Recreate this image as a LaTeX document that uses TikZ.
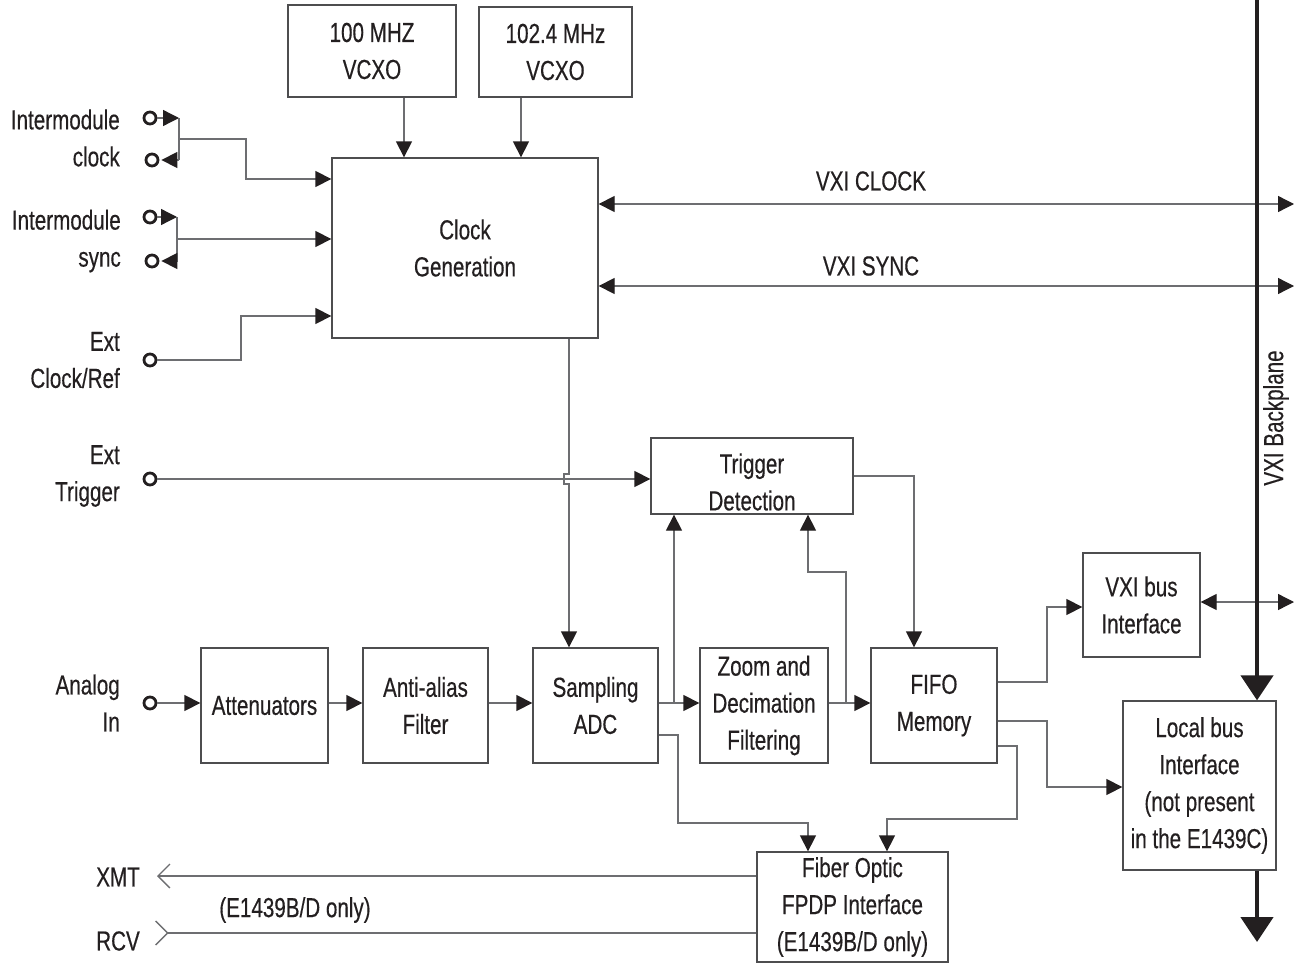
\documentclass[tikz,border=0pt]{standalone}
\usepackage{fontspec}
\setmainfont{Liberation Sans}[FakeStretch=0.75,FakeBold=0.4]
\usetikzlibrary{arrows.meta}
\definecolor{ink}{HTML}{231F20}
\definecolor{wire}{HTML}{6D6E71}
\definecolor{edgec}{HTML}{4D4D4F}
\newcommand{\diafont}{\fontsize{27.5}{37}\selectfont}
\tikzset{
  blk/.style={draw=edgec, line width=1.3pt, fill=white, align=center, text=ink, font=\diafont, inner sep=0pt},
  lab/.style={text=ink, font=\diafont, inner sep=0pt},
  wireln/.style={draw=wire, line width=1.3pt},
  arr/.style={wireln, -{Triangle[length=16pt,width=16pt,color=ink]}},
  biarr/.style={wireln, {Triangle[length=16pt,width=16pt,color=ink]}-{Triangle[length=16pt,width=16pt,color=ink]}},
  term/.style={circle, draw=ink, line width=2.8pt, inner sep=0pt, minimum size=12pt},
  bpl/.style={draw=ink, line width=4.5pt, -{Triangle[length=25pt,width=32pt,color=ink]}},
  barb/.style={wireln, {Straight Barb[length=12pt,width=24pt,color=wire]}-},
  rbarb/.style={wireln, {Straight Barb[reversed,length=12pt,width=24pt,color=wire]}-}
}
\begin{document}
\begin{tikzpicture}[x=1pt,y=-1pt]
\useasboundingbox (0,0) rectangle (1294,966);

% boxes
\node[blk, minimum width=168pt, minimum height=92pt] (v100) at (372,51) {100 MHZ\\VCXO};
\node[blk, minimum width=153pt, minimum height=90pt] (v102) at (555.5,52) {102.4 MHz\\VCXO};
\node[blk, minimum width=266pt, minimum height=180pt] (clk) at (465,248) {Clock\\Generation};
\node[blk, minimum width=202pt, minimum height=76pt] (trig) at (752,476) {};
\node[lab, align=center] (trigtxt) at (752,482) {Trigger\\Detection};
\node[blk, minimum width=117pt, minimum height=104pt] (vxib) at (1141.5,605) {VXI bus\\Interface};
\node[blk, minimum width=127pt, minimum height=115pt] (att) at (264.5,705.5) {Attenuators};
\node[blk, minimum width=125pt, minimum height=115pt] (aaf) at (425.5,705.5) {Anti-alias\\Filter};
\node[blk, minimum width=125pt, minimum height=115pt] (adc) at (595.5,705.5) {Sampling\\ADC};
\node[blk, minimum width=128pt, minimum height=115pt] (zoom) at (764,705.5) {Zoom and\\Decimation\\Filtering};
\node[blk, minimum width=126pt, minimum height=115pt] (fifo) at (934,705.5) {FIFO\\Memory};
\node[blk, minimum width=153pt, minimum height=169pt] (lbus) at (1199.5,785.5) {Local bus\\Interface\\(not present\\in the E1439C)};
\node[blk, minimum width=191pt, minimum height=110pt] (fiber) at (852.5,907) {Fiber Optic\\FPDP Interface\\(E1439B/D only)};

% terminals
\node[term] (timc1) at (150,118) {};
\node[term] (timc2) at (152,160) {};
\node[term] (tims1) at (150,217) {};
\node[term] (tims2) at (152,261) {};
\node[term] (tecr) at (150,360) {};
\node[term] (tet) at (150,479) {};
\node[term] (tai) at (150,703) {};

% left labels
\node[lab, anchor=east, align=right] (limc) at (120,138) {Intermodule\\clock};
\node[lab, anchor=east, align=right] (lims) at (121,241) {Intermodule\\sync};
\node[lab, anchor=east, align=right] (lecr) at (120,360) {Ext\\Clock/Ref};
\node[lab, anchor=east, align=right] (let) at (120,476) {Ext\\Trigger};
\node[lab, anchor=east, align=right] (lai) at (120,703) {Analog\\In};
\node[lab, anchor=east] (lxmt) at (140,877) {XMT};
\node[lab, anchor=east] (lrcv) at (140,941) {RCV};
\node[lab] (lonly) at (295,910) {(E1439B/D only)};
\node[lab] (lclk) at (871,181) {VXI CLOCK};
\node[lab] (lsync) at (871,266) {VXI SYNC};
\node[lab, rotate=90] (lbp) at (1276,418) {VXI Backplane};

% coordinates
\coordinate (jc) at (179,139);
\coordinate (js) at (177,239);
\coordinate (bptop) at (1257,0);
\coordinate (bpend) at (1257,942);
\coordinate (rclk) at (1294,204);
\coordinate (rsync) at (1294,286);
\coordinate (rvxib) at (1294,602);
\coordinate (xmt) at (157,876);
\coordinate (rcv) at (155,933);

% VCXO to clock
\draw[arr] (v100.south -| 404,0) -- (clk.north -| 404,0);
\draw[arr] (v102.south -| 521,0) -- (clk.north -| 521,0);

% intermodule clock
\draw[arr] (timc1) -- (179,118);
\draw[wireln] (179,118) -- (179,160);
\draw[arr, shorten >=2pt] (179,160) -- (timc2);
\draw[arr] (jc) -- (246,139) -- (246,179) -- (clk.west |- 0,179);

% intermodule sync
\draw[arr] (tims1) -- (177,217);
\draw[wireln] (177,217) -- (177,261);
\draw[arr, shorten >=2pt] (177,261) -- (tims2);
\draw[arr] (js) -- (clk.west |- 0,239);

% ext clock/ref
\draw[arr] (tecr) -- (241,360) -- (241,316) -- (clk.west |- 0,316);

% VXI clock / sync
\draw[biarr] (clk.east |- rclk) -- (rclk);
\draw[biarr] (clk.east |- rsync) -- (rsync);

% clock to ADC with hop
\draw[arr] (clk.south -| 569,0) -- (569,474) -- (564,474) -- (564,484) -- (569,484) -- (adc.north -| 569,0);

% ext trigger
\draw[arr] (tet) -- (trig.west |- 0,479);

% analog chain
\draw[arr] (tai) -- (att.west |- 0,703);
\draw[arr] (att.east |- 0,703) -- (aaf.west |- 0,703);
\draw[arr] (aaf.east |- 0,703) -- (adc.west |- 0,703);
\draw[arr] (adc.east |- 0,703) -- (zoom.west |- 0,703);
\draw[arr] (674,703) -- (trig.south -| 674,0);
\draw[arr] (zoom.east |- 0,703) -- (fifo.west |- 0,703);
\draw[arr] (846,703) -- (846,572) -- (808,572) -- (trig.south -| 808,0);
\draw[arr] (trig.east |- 0,476) -- (914,476) -- (fifo.north -| 914,0);

% FIFO outputs
\draw[arr] (fifo.east |- 0,682) -- (1047,682) -- (1047,607) -- (vxib.west |- 0,607);
\draw[arr] (fifo.east |- 0,721) -- (1047,721) -- (1047,787) -- (lbus.west |- 0,787);
\draw[arr] (fifo.east |- 0,746) -- (1017,746) -- (1017,819) -- (887,819) -- (fiber.north -| 887,0);
\draw[arr] (adc.east |- 0,735) -- (678,735) -- (678,823) -- (808,823) -- (fiber.north -| 808,0);

% VXI bus to backplane
\draw[biarr] (vxib.east |- rvxib) -- (rvxib);

% fiber XMT / RCV
\draw[barb] (xmt) -- (fiber.west |- xmt);
\draw[rbarb] (rcv) -- (fiber.west |- rcv);

% backplane
\draw[bpl] (bptop) -- (lbus.north -| bptop);
\draw[bpl] (lbus.south -| bptop) -- (bpend);
\end{tikzpicture}
\end{document}
